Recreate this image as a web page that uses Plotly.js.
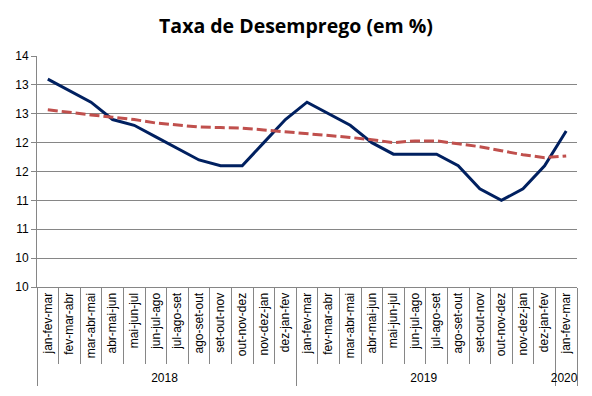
<!DOCTYPE html>
<html><head><meta charset="utf-8">
<script src="https://cdn.plot.ly/plotly-3.0.1.min.js"></script>
<style>html,body{margin:0;padding:0;background:#fff}#chart{width:592px;height:396px}</style>
</head><body><div id="chart"></div>
<script>
const periods = ["jan-fev-mar","fev-mar-abr","mar-abr-mai","abr-mai-jun","mai-jun-jul","jun-jul-ago","jul-ago-set","ago-set-out","set-out-nov","out-nov-dez","nov-dez-jan","dez-jan-fev",
  "jan-fev-mar","fev-mar-abr","mar-abr-mai","abr-mai-jun","mai-jun-jul","jun-jul-ago","jul-ago-set","ago-set-out","set-out-nov","out-nov-dez","nov-dez-jan","dez-jan-fev",
  "jan-fev-mar"];
const years = ["2018","2018","2018","2018","2018","2018","2018","2018","2018","2018","2018","2018",
  "2019","2019","2019","2019","2019","2019","2019","2019","2019","2019","2019","2019","2020"];
const taxa = [13.1,12.9,12.7,12.4,12.3,12.1,11.9,11.7,11.6,11.6,12.0,12.4,
  12.7,12.5,12.3,12.0,11.8,11.8,11.8,11.6,11.2,11.0,11.2,11.6,12.2];
const tendencia = [12.57,12.52,12.48,12.44,12.40,12.34,12.30,12.27,12.26,12.25,12.22,12.19,
  12.16,12.12,12.09,12.05,12.00,12.03,12.03,11.98,11.93,11.86,11.79,11.74,11.77];
const yTickVals = [9.5,10,10.5,11,11.5,12,12.5,13,13.5];
const yTickText = ["10","10","11","11","12","12","13","13","14"];

const data = [
  {x:[years,periods], y:taxa, type:"scatter", mode:"lines", name:"Taxa",
   line:{color:"#002060", width:3}},
  {x:[years,periods], y:tendencia, type:"scatter", mode:"lines", name:"Tendência",
   line:{color:"#C0504D", width:3, dash:"10px,4px"}}
];
const layout = {
  width:592, height:396,
  margin:{l:37, r:15, t:56, b:109},
  paper_bgcolor:"#fff", plot_bgcolor:"#fff",
  showlegend:false,
  title:{text:"<b>Taxa de Desemprego (em %)</b>", x:0.5, xanchor:"center", y:0.935, yanchor:"middle",
    font:{family:"Open Sans, sans-serif", size:19.5, color:"#000"}},
  xaxis:{type:"multicategory", tickson:"boundaries", ticks:"outside", ticklen:76, tickcolor:"#868686",
    showgrid:false, showline:true, linecolor:"#868686", linewidth:1,
    tickangle:-90, tickfont:{family:"Liberation Sans, Arial, sans-serif", size:12, color:"#000"},
    dividercolor:"#868686", dividerwidth:1, showdividers:true, range:[-0.5,24.5]},
  yaxis:{range:[9.5,13.5], tickvals:yTickVals, ticktext:yTickText, showgrid:true, gridcolor:"#868686", gridwidth:1,
    showline:true, linecolor:"#868686", ticks:"outside", ticklen:5, tickcolor:"#868686", zeroline:false,
    tickfont:{family:"Liberation Sans, Arial, sans-serif", size:12, color:"#000"}}
};
Plotly.newPlot("chart", data, layout, {displayModeBar:false, staticPlot:true});
</script></body></html>
